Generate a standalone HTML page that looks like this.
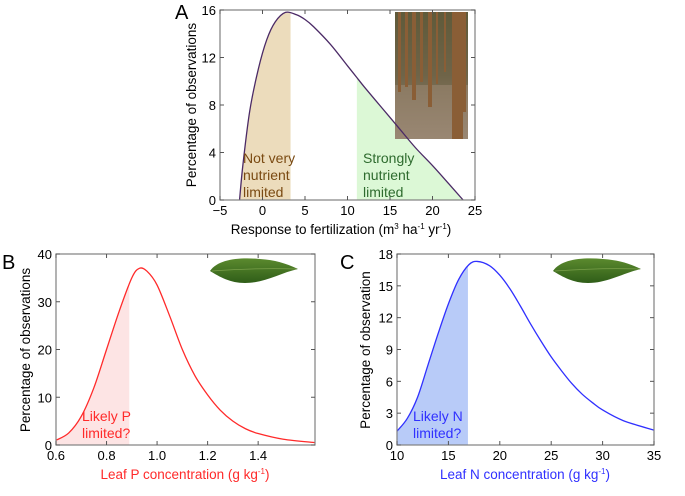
<!DOCTYPE html>
<html><head><meta charset="utf-8"><style>
body{margin:0;background:#fff;width:685px;height:491px;overflow:hidden}
svg{font-family:"Liberation Sans",sans-serif}
</style></head><body>
<svg id="fig" width="685" height="491" viewBox="0 0 685 491">
<defs>
<linearGradient id="forest" x1="0" y1="0" x2="0" y2="1"><stop offset="0" stop-color="#5f5a3a"/><stop offset="0.5" stop-color="#6f6448"/><stop offset="1" stop-color="#9a8a78"/></linearGradient>
<linearGradient id="leafg" x1="0" y1="0" x2="0" y2="1"><stop offset="0" stop-color="#5b8a2e"/><stop offset="1" stop-color="#2f5d18"/></linearGradient>
</defs>
</svg>
<script>
// Panel A data
const aX=[-2.7,-2.3,-1.5,-0.5,0.5,1.5,2.7,4,5,6,8,10,11,12,14,16,18,20,22,23.6];
const aY=[0,3,7.5,11,13.5,15,15.8,15.6,15.2,14.6,13.1,11.3,10.4,9.5,7.8,6.1,4.4,2.9,1.3,0];
const aXTicks=[-5,0,5,10,15,20,25];
const aYTicks=[0,4,8,12,16];
// Panel B data
const bX=[0.6,0.65,0.7,0.75,0.8,0.85,0.9,0.93,0.96,1.0,1.05,1.1,1.15,1.2,1.25,1.3,1.35,1.4,1.5,1.625];
const bY=[1,2.5,6,12,20,28,35,37,36.4,33.5,27,20,14.5,10.5,7.3,5,3.4,2.4,1.2,0.5];
const bXTicks=[0.6,0.8,1.0,1.2,1.4];
const bXLabels=["0.6","0.8","1.0","1.2","1.4"];
const bYTicks=[0,10,20,30,40];
// Panel C data
const cX=[10,11,12,13,14,15,16,17,17.8,19,20,21,22,23,24,25,26,27,28,29,30,32,35];
const cY=[1.3,2.5,4.5,7.5,10.5,13.3,15.6,17,17.3,16.9,16,14.7,13.1,11.4,9.8,8.3,7,5.8,4.8,4,3.3,2.3,1.4];
const cXTicks=[10,15,20,25,30,35];
const cYTicks=[0,3,6,9,12,15,18];

const NS="http://www.w3.org/2000/svg";
const svg=document.getElementById('fig');
function mk(tag,attrs,parent,text){const e=document.createElementNS(NS,tag);for(const k in attrs)e.setAttribute(k,attrs[k]);if(text!==undefined)e.textContent=text;(parent||svg).appendChild(e);return e;}
function scale(d0,d1,r0,r1){return v=>r0+(v-d0)/(d1-d0)*(r1-r0);}
function spline(xs,ys,sx,sy){
  const p=xs.map((x,i)=>[sx(x),sy(ys[i])]);
  let d=`M${p[0][0]},${p[0][1]}`;
  for(let i=0;i<p.length-1;i++){
    const p0=p[i-1]||p[i],p1=p[i],p2=p[i+1],p3=p[i+2]||p2;
    const c1=[p1[0]+(p2[0]-p0[0])/6,p1[1]+(p2[1]-p0[1])/6];
    const c2=[p2[0]-(p3[0]-p1[0])/6,p2[1]-(p3[1]-p1[1])/6];
    d+=` C${c1[0]},${c1[1]} ${c2[0]},${c2[1]} ${p2[0]},${p2[1]}`;
  }
  return d;
}
function interp(xs,ys,x){for(let i=0;i<xs.length-1;i++){if(x>=xs[i]&&x<=xs[i+1]){const t=(x-xs[i])/(xs[i+1]-xs[i]);return ys[i]+t*(ys[i+1]-ys[i]);}}return 0;}
function areaPath(xs,ys,lo,hi,sx,sy){
  const px=[lo],py=[interp(xs,ys,lo)];
  xs.forEach((x,i)=>{if(x>lo&&x<hi){px.push(x);py.push(ys[i]);}});
  px.push(hi);py.push(interp(xs,ys,hi));
  return spline(px,py,sx,sy)+` L${sx(hi)},${sy(0)} L${sx(lo)},${sy(0)} Z`;
}
function axes(g,L,T,R,B,sx,sy,xt,xl,yt){
  const box=mk('rect',{x:L,y:T,width:R-L,height:B-T,fill:'none',stroke:'#808080','stroke-width':1.2},g);
  
  
  xt.forEach((v,i)=>{
    const x=sx(v);
    mk('line',{x1:x,y1:B,x2:x,y2:B-4,stroke:'#555'},g);
    mk('line',{x1:x,y1:T,x2:x,y2:T+4,stroke:'#555'},g);
    const t=mk('text',{x:x,y:B+15,'text-anchor':'middle','font-size':13,fill:'#000'},g,xl?xl[i]:(v<0?'\u2212'+(-v):String(v)));
    
    
  });
  yt.forEach(v=>{
    const y=sy(v);
    mk('line',{x1:L,y1:y,x2:L+4,y2:y,stroke:'#555'},g);
    mk('line',{x1:R,y1:y,x2:R-4,y2:y,stroke:'#555'},g);
    const t=mk('text',{x:L-4,y:y+5,'text-anchor':'end','font-size':13,fill:'#000'},g,String(v));
    
    
  });
}
function label(g,x,y,txt,color,size,name,anchor,rot){
  const t=mk('text',{x:x,y:y,'font-size':size,fill:color,'text-anchor':anchor||'start'},g,txt);
  if(rot)t.setAttribute('transform',`rotate(-90 ${x} ${y})`);
  
  
  return t;
}
function leaf(g,x,y){
  const p=mk('path',{d:`M${x},${y+8} C${x+8},${y-4} ${x+30},${y-6} ${x+50},${y-4} C${x+65},${y-3} ${x+75},${y} ${x+88},${y+6} C${x+70},${y+10} ${x+55},${y+20} ${x+35},${y+20} C${x+20},${y+20} ${x+10},${y+14} ${x},${y+8} Z`,fill:'url(#leafg)'},g);
  
  
  mk('path',{d:`M${x+2},${y+8} C${x+30},${y+6} ${x+60},${y+5} ${x+86},${y+6}`,stroke:'#7aa04a','stroke-width':0.8,fill:'none'},g);
}

// ===== Panel A =====
{
const g=mk('g',{});
const L=220,R=475,T=10,B=200;
const sx=scale(-5,25,L,R),sy=scale(0,16,B,T);
const s1=mk('path',{d:areaPath(aX,aY,-2.7,3.3,sx,sy),fill:'#ecdcbc'},g);

const s2=mk('path',{d:areaPath(aX,aY,11.1,23.6,sx,sy),fill:'#dcf8d6'},g);

const ph=mk('g',{},g);
mk('rect',{x:395,y:12,width:73,height:127,fill:'url(#forest)'},ph);
mk('rect',{x:395,y:85,width:73,height:54,fill:'#9a8570',opacity:0.6},ph);
[[398,3,80],[405,3,75],[412,4,88],[420,3,70],[428,4,95],[436,2,72],[444,2,60],[452,11,127],[463,3,100]].forEach(([x,w,h])=>mk('rect',{x:x,y:12,width:w,height:h,fill:'#8a5e36'},ph));
const c=mk('path',{d:spline(aX,aY,sx,sy),fill:'none',stroke:'#4b2a66','stroke-width':1.3},g);

axes(g,L,T,R,B,sx,sy,aXTicks,null,aYTicks);
label(g,175,19,'A','#000',20,'panel-label-a');
label(g,196,105,'Percentage of observations','#000',13.5,'y-axis-title','middle',true);
const xt=label(g,341,234,'','#000',13.5,'x-axis-title','middle');
xt.innerHTML='Response to fertilization (m<tspan dy="-5" font-size="8">3</tspan><tspan dy="5"> ha</tspan><tspan dy="-5" font-size="8">-1</tspan><tspan dy="5"> yr</tspan><tspan dy="-5" font-size="8">-1</tspan><tspan dy="5">)</tspan>';
[['Not very',163],['nutrient',180],['limited',197]].forEach(([t,y])=>label(g,243,y,t,'#7a4a12',14,'not-limited-label'));
[['Strongly',163],['nutrient',180],['limited',197]].forEach(([t,y])=>label(g,363,y,t,'#2e6b2e',14,'strongly-limited-label'));
}
// ===== Panel B =====
{
const g=mk('g',{});
const L=56,R=315,T=254,B=445;
const sx=scale(0.6,1.625,L,R),sy=scale(0,40,B,T);
const s=mk('path',{d:areaPath(bX,bY,0.6,0.89,sx,sy),fill:'#fde4e4'},g);

leaf(g,210,263);
const c=mk('path',{d:spline(bX,bY,sx,sy),fill:'none',stroke:'#ff2a2a','stroke-width':1.3},g);

axes(g,L,T,R,B,sx,sy,bXTicks,bXLabels,bYTicks);
label(g,2,269,'B','#000',20,'panel-label-b');
label(g,30,350,'Percentage of observations','#000',13.5,'y-axis-title','middle',true);
const xt=label(g,185,479,'','#ff2a2a',13.5,'x-axis-title','middle');
xt.innerHTML='Leaf P concentration (g kg<tspan dy="-5" font-size="8">-1</tspan><tspan dy="5">)</tspan>';
label(g,82,421,'Likely P','#ff2a2a',14,'p-limited-label');
label(g,82,438,'limited?','#ff2a2a',14,'p-limited-label');
}
// ===== Panel C =====
{
const g=mk('g',{});
const L=397,R=654,T=254,B=445;
const sx=scale(10,35,L,R),sy=scale(0,18,B,T);
const s=mk('path',{d:areaPath(cX,cY,10,16.9,sx,sy),fill:'#b8cbf8'},g);

leaf(g,553,263);
const c=mk('path',{d:spline(cX,cY,sx,sy),fill:'none',stroke:'#3030ff','stroke-width':1.3},g);

axes(g,L,T,R,B,sx,sy,cXTicks,null,cYTicks);
label(g,340,269,'C','#000',20,'panel-label-c');
label(g,370,350,'Percentage of observation','#000',13.5,'y-axis-title','middle',true);
const xt=label(g,525,479,'','#3030ff',13.5,'x-axis-title','middle');
xt.innerHTML='Leaf N concentration (g kg<tspan dy="-5" font-size="8">-1</tspan><tspan dy="5">)</tspan>';
label(g,413,421,'Likely N','#3030ff',14,'n-limited-label');
label(g,413,438,'limited?','#3030ff',14,'n-limited-label');
}
</script>
</body></html>
